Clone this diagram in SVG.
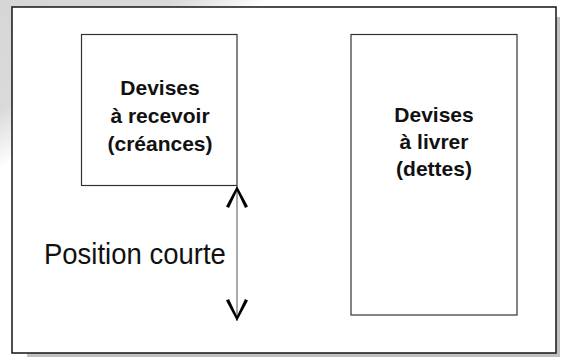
<svg xmlns="http://www.w3.org/2000/svg" width="562" height="358" viewBox="0 0 562 358">
<defs>
<linearGradient id="bg" gradientUnits="userSpaceOnUse" x1="0" y1="0" x2="77" y2="122">
<stop offset="0" stop-color="#d6d6d6"/>
<stop offset="0.65" stop-color="#dadada"/>
<stop offset="1" stop-color="#ffffff"/>
</linearGradient>
<marker id="head" viewBox="-23 -12 24 24" markerWidth="24" markerHeight="24" refX="0" refY="0" orient="auto-start-reverse" markerUnits="userSpaceOnUse">
<path d="M0,0 L-20.5,11 L-22,8 L-5,0 L-22,-8 L-20.5,-11 Z" fill="#000"/>
</marker>
</defs>
<style>
.box{fill:#fff;stroke:#333;stroke-width:1.2}
.lbl{font-family:"Liberation Sans",Arial,sans-serif;font-weight:bold;font-size:21px;fill:#111;text-anchor:middle}
.reg{font-family:"Liberation Sans",Arial,sans-serif;font-size:27.5px;fill:#111}
</style>
<rect x="0" y="0" width="562" height="358" fill="url(#bg)"/>
<g id="frame">
<rect x="27" y="353" width="533" height="4" fill="#c0c0c0"/>
<rect x="556" y="17" width="4" height="340" fill="#c0c0c0"/>
<rect x="12" y="7" width="544" height="346" fill="#fff" stroke="#222" stroke-width="1.6"/>
</g>
<g id="node-receivables">
<rect class="box" x="81.5" y="34.5" width="155.5" height="151"/>
<text class="lbl" x="160" y="95">Devises</text>
<text class="lbl" x="160" y="123">à recevoir</text>
<text class="lbl" x="160" y="150.5">(créances)</text>
</g>
<g id="node-payables">
<rect class="box" x="351" y="34.5" width="166" height="280.5"/>
<text class="lbl" x="434" y="121.5">Devises</text>
<text class="lbl" x="434" y="149">à livrer</text>
<text class="lbl" x="434" y="176">(dettes)</text>
</g>
<g id="connectors">
<line x1="237" y1="186" x2="237" y2="321" stroke="#555" stroke-width="1" marker-start="url(#head)" marker-end="url(#head)"/>
</g>
<g id="label-position">
<text class="reg" transform="translate(44,264) scale(1,1.08)">Position courte</text>
</g>
</svg>
